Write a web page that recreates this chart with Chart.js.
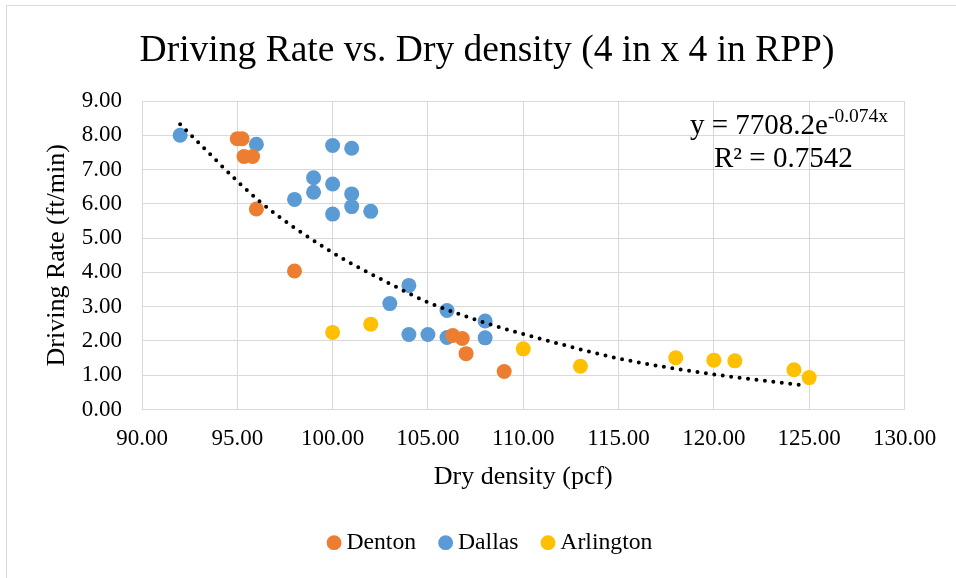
<!DOCTYPE html>
<html>
<head>
<meta charset="utf-8">
<script src="https://cdn.jsdelivr.net/npm/chart.js@4.4.1/dist/chart.umd.min.js"></script>
<style>
  html, body { margin: 0; padding: 0; background: #fff; }
</style>
</head>
<body>
<canvas id="myChart" width="956" height="578"></canvas>
<script>
// values
var dentonX = [95.0, 95.25, 95.35, 95.8, 96.0, 98.0, 106.3, 106.8, 107.0, 109.0];
var dentonY = [7.90, 7.90, 7.38, 7.38, 5.85, 4.04, 2.16, 2.07, 1.63, 1.11];

var dallasX = [92, 96, 100, 101, 99, 100, 99, 98, 101, 101, 100, 102, 104, 103, 106, 108, 104, 105, 106, 108];
var dallasY = [8.00, 7.74, 7.70, 7.62, 6.76, 6.58, 6.34, 6.13, 6.29, 5.92, 5.70, 5.78, 3.62, 3.09, 2.89, 2.58, 2.19, 2.19, 2.10, 2.09];

var arlingtonX = [100, 102, 110, 113, 118, 120, 121.1, 124.2, 125];
var arlingtonY = [2.25, 2.49, 1.77, 1.26, 1.51, 1.44, 1.42, 1.16, 0.93];

// exponential trendline
var trendX = [92, 96.2, 99.9, 103.5, 105, 108.4, 111.4, 115, 119.8, 124.8];
var trendY = [8.32, 6.06, 4.61, 3.53, 3.13, 2.46, 1.99, 1.49, 1.04, 0.70];

var xTicks = [90, 95, 100, 105, 110, 115, 120, 125, 130];
var yTicks = [0, 1, 2, 3, 4, 5, 6, 7, 8, 9];

var trendLabel = 'y = 7708.2e';
var trendExp = '-0.074x';
var r2Label = 'R² = 0.7542';

function pts(xs, ys) {
  return xs.map(function(x, i) { return {x: x, y: ys[i]}; });
}

var serif = "'Liberation Serif', 'Times New Roman', serif";
Chart.defaults.font.family = serif;
Chart.defaults.color = '#000';

var frame = {
  id: 'frame',
  afterLayout: function(chart) {
    // legend sits a little right of centre in the original
    chart.legend.left += 6;
    chart.legend.right += 6;
  },
  beforeDraw: function(chart) {
    var ctx = chart.ctx;
    ctx.save();
    ctx.fillStyle = '#fff';
    ctx.fillRect(0, 0, chart.width, chart.height);
    ctx.strokeStyle = '#d9d9d9';
    ctx.lineWidth = 1;
    ctx.strokeRect(6.5, 5.5, 1000, 1000);
    ctx.restore();
  }
};

var equation = {
  id: 'equation',
  afterDraw: function(chart) {
    var ctx = chart.ctx;
    ctx.save();
    ctx.fillStyle = '#000';
    ctx.textBaseline = 'alphabetic';
    ctx.textAlign = 'left';
    ctx.font = '29px ' + serif;
    ctx.fillText(trendLabel, 690, 134);
    var w = ctx.measureText(trendLabel).width;
    ctx.font = '19.5px ' + serif;
    ctx.fillText(trendExp, 690 + w, 122);
    ctx.font = '29px ' + serif;
    ctx.fillText(r2Label, 714, 167);
    ctx.restore();
  }
};

var ctx = document.getElementById('myChart').getContext('2d');
var myChart = new Chart(ctx, {
  type: 'scatter',
  data: {
    datasets: [{
        label: 'Denton',
        data: pts(dentonX, dentonY),
        backgroundColor: '#ED7D31',
        borderColor: '#ED7D31',
        borderWidth: 0,
        pointRadius: 7.5
      }, {
        label: 'Dallas',
        data: pts(dallasX, dallasY),
        backgroundColor: '#5B9BD5',
        borderColor: '#5B9BD5',
        borderWidth: 0,
        pointRadius: 7.5
      }, {
        label: 'Arlington',
        data: pts(arlingtonX, arlingtonY),
        backgroundColor: '#FFC000',
        borderColor: '#FFC000',
        borderWidth: 0,
        pointRadius: 7.5
      }, {
        label: 'Trend',
        type: 'line',
        data: pts(trendX, trendY),
        showLine: true,
        borderColor: '#000',
        borderWidth: 4,
        borderDash: [0, 8.5],
        borderCapStyle: 'round',
        cubicInterpolationMode: 'monotone',
        pointRadius: 0,
        fill: false,
        order: -1
      }
    ]
  },
  options: {
    responsive: false,
    animation: false,
    layout: {
      padding: {left: 20, right: 2, top: 0, bottom: 13.5}
    },
    plugins: {
      title: {
        display: true,
        text: 'Driving Rate vs. Dry density (4 in x 4 in RPP)',
        color: '#000',
        font: {size: 37.5, weight: 'normal'},
        padding: {top: 29, bottom: 27}
      },
      legend: {
        position: 'bottom',
        labels: {
          usePointStyle: true,
          pointStyle: 'circle',
          boxWidth: 1,
          boxHeight: 10.5,
          padding: 29,
          color: '#000',
          font: {size: 23.7},
          filter: function(item) { return item.text !== 'Trend'; },
          sort: function(a, b) { return a.datasetIndex - b.datasetIndex; }
        }
      },
      tooltip: {enabled: false}
    },
    scales: {
      x: {
        type: 'linear',
        min: xTicks[0],
        max: xTicks[xTicks.length - 1],
        afterBuildTicks: function(s) { s.ticks = xTicks.map(function(v) { return {value: v}; }); },
        afterFit: function(s) { s.height = 92.3; },
        ticks: {
          padding: 16,
          color: '#000',
          font: {size: 23},
          callback: function(v) { return Number(v).toFixed(2); }
        },
        grid: {color: '#d9d9d9', drawTicks: false},
        border: {color: '#d9d9d9'},
        title: {
          display: true,
          text: 'Dry density (pcf)',
          color: '#000',
          font: {size: 26},
          padding: {top: 4, bottom: 9}
        }
      },
      y: {
        type: 'linear',
        min: yTicks[0],
        max: yTicks[yTicks.length - 1],
        afterBuildTicks: function(s) { s.ticks = yTicks.map(function(v) { return {value: v}; }); },
        afterFit: function(s) { s.width = 122; },
        ticks: {
          padding: 20,
          color: '#000',
          font: {size: 23},
          callback: function(v) { return Number(v).toFixed(2); }
        },
        grid: {color: '#d9d9d9', drawTicks: false},
        border: {color: '#d9d9d9'},
        title: {
          display: true,
          text: 'Driving Rate (ft/min)',
          color: '#000',
          font: {size: 26},
          padding: {top: 22, bottom: 0}
        }
      },
      yR: {
        type: 'linear',
        position: 'right',
        grid: {display: false, drawTicks: false},
        border: {display: false},
        ticks: {display: false},
        afterFit: function(s) { s.width = 49.5; }
      }
    }
  },
  plugins: [frame, equation]
});
</script>
</body>
</html>
